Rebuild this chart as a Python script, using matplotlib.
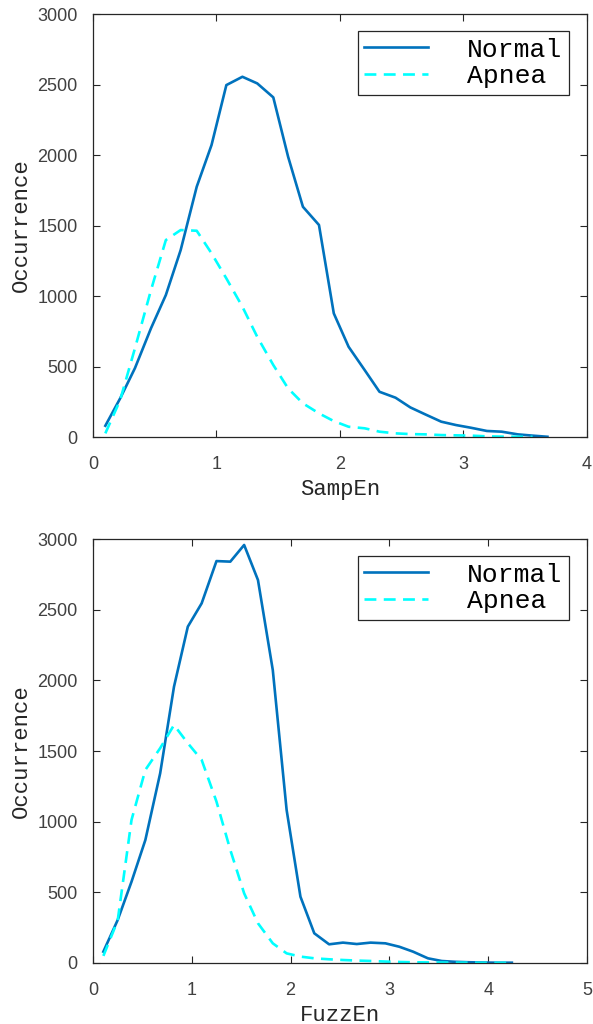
import matplotlib.pyplot as plt

# bin centres and counts
samp_x = [0.10, 0.22, 0.34, 0.47, 0.59, 0.71, 0.84, 0.96, 1.08, 1.21,
          1.33, 1.46, 1.58, 1.70, 1.83, 1.95, 2.07, 2.20, 2.32, 2.45,
          2.57, 2.69, 2.82, 2.94, 3.06, 3.19, 3.31, 3.44, 3.56, 3.68]
samp_normal = [80, 274, 489, 772, 1007, 1326, 1775, 2071, 2496, 2555,
               2508, 2409, 1988, 1633, 1504, 877, 640, 475, 321, 279,
               210, 161, 109, 85, 66, 43, 38, 19, 10, 2]
samp_apnea = [26, 262, 630, 1043, 1397, 1468, 1463, 1303, 1125, 924,
              711, 511, 345, 239, 168, 113, 73, 62, 38, 26,
              21, 19, 14, 12, 10, 5, 3, 2, 1]

fuzz_x = [0.105, 0.25, 0.39, 0.53, 0.68, 0.82, 0.96, 1.10, 1.25, 1.39,
          1.53, 1.67, 1.82, 1.96, 2.10, 2.24, 2.39, 2.53, 2.67, 2.81,
          2.96, 3.10, 3.24, 3.39, 3.53, 3.67, 3.81, 3.96, 4.10, 4.24]
fuzz_normal = [80, 304, 575, 870, 1342, 1955, 2380, 2545, 2844, 2840,
               2958, 2710, 2073, 1083, 469, 210, 132, 144, 134, 144,
               139, 115, 80, 33, 14, 8, 5, 3, 2, 2]
fuzz_apnea = [50, 300, 1012, 1366, 1520, 1684, 1555, 1437, 1142, 800,
              493, 281, 139, 68, 45, 33, 26, 21, 17, 14,
              10, 7, 5, 4, 3, 2, 2, 1, 1, 1]

NORMAL_COLOR = '#0072BD'
APNEA_COLOR = '#00FFFF'
AX_COLOR = '#262626'
DASH = (0, (4.5, 2.8))
label_font = 'Liberation Mono'
tick_font = 'Liberation Sans'


def style_axes(ax, xmax, xlabel):
    ax.set_xlim(0, xmax)
    ax.set_ylim(0, 3000)
    ax.set_xticks(range(0, xmax + 1))
    ax.set_yticks(range(0, 3001, 500))
    ax.tick_params(direction='in', top=True, right=True, length=5,
                   width=0.8, colors=AX_COLOR, labelsize=13)
    ax.tick_params(axis='x', pad=14)
    ax.tick_params(axis='y', pad=11)
    for lab in ax.get_xticklabels() + ax.get_yticklabels():
        lab.set_family(tick_font)
        lab.set_color('#404040')
    for sp in ax.spines.values():
        sp.set_color(AX_COLOR)
        sp.set_linewidth(0.9)
    ax.set_xlabel(xlabel, family=label_font, fontsize=16, color=AX_COLOR)
    ax.set_ylabel('Occurrence', family=label_font, fontsize=16, color=AX_COLOR)
    leg = ax.legend(loc='upper right', bbox_to_anchor=(0.964, 0.96),
                    borderaxespad=0, fancybox=False, framealpha=1,
                    edgecolor=AX_COLOR, handlelength=2.4, handletextpad=1.5,
                    prop={'family': label_font, 'size': 19},
                    borderpad=0.25, labelspacing=0.1)
    leg.get_frame().set_linewidth(0.9)


fig = plt.figure(figsize=(5.93, 10.24), dpi=100)
ax1 = fig.add_axes([0.1568, 0.5732, 0.833, 0.4131])
ax2 = fig.add_axes([0.1568, 0.0596, 0.833, 0.414])

ax1.plot(samp_x, samp_normal, color=NORMAL_COLOR, lw=1.9, label='Normal')
ax1.plot(samp_x[:len(samp_apnea)], samp_apnea, color=APNEA_COLOR, lw=1.9,
         ls=DASH, label='Apnea')
style_axes(ax1, 4, 'SampEn')

ax2.plot(fuzz_x, fuzz_normal, color=NORMAL_COLOR, lw=1.9, label='Normal')
ax2.plot(fuzz_x, fuzz_apnea, color=APNEA_COLOR, lw=1.9,
         ls=DASH, label='Apnea')
style_axes(ax2, 5, 'FuzzEn')

fig.savefig('out.png', dpi=100)
